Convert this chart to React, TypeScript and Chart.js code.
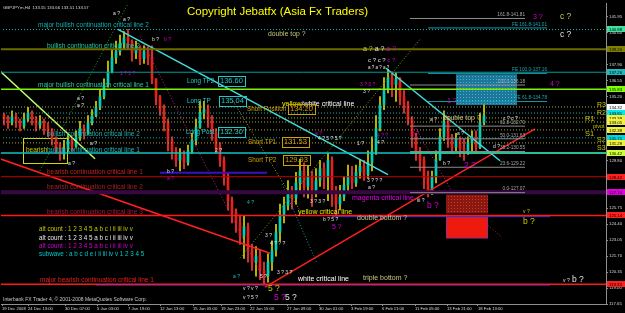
import React, { useEffect, useRef } from "react";
import { Chart, registerables } from "chart.js";

Chart.register(...registerables);

const FONT = "'Liberation Sans', Arial, Helvetica, sans-serif";

// ---------- price data : one candle per 2 H4 bars, x in H4-bar units ----------
const OPEN_FIRST = 133.6;
const CLOSES = [
  133.3, 133.0, 133.5, 133.1, 132.7, 133.3, 133.8, 133.3, 132.8, 133.1,
  132.6, 132.3, 131.6, 130.9, 130.3, 130.8, 131.5, 131.0, 131.8, 132.5,
  132.1, 133.0, 133.6, 134.3, 135.2, 136.2, 137.3, 138.5, 139.0, 139.7,
  140.2, 139.9, 138.9, 139.4, 138.4, 139.0, 138.5, 136.7, 135.2, 134.1,
  133.0, 131.5, 130.6, 129.8, 130.3, 129.6, 130.6, 131.5, 132.6, 133.8,
  134.1, 133.3, 132.1, 130.9, 129.8, 128.4, 126.4, 125.4, 124.5, 123.4,
  124.2, 122.2, 121.2, 121.7, 120.5, 120.0, 121.2, 122.2, 123.7, 125.2,
  126.0, 127.2, 126.6, 127.9, 128.9, 127.6, 128.4, 127.2, 128.1, 129.1,
  128.4, 129.8, 127.2, 126.1, 126.7, 127.7, 128.4, 127.9, 128.8, 129.3,
  128.6, 129.6, 130.6, 132.5, 134.5, 135.8, 136.8, 136.2, 136.7, 135.2,
  134.5, 133.3, 131.8, 130.6, 129.8, 128.3, 127.2, 128.4, 129.9, 131.8,
  133.1, 131.5, 130.9, 131.6, 130.8, 130.4, 131.3, 131.8, 130.9, 133.0, 133.6,
];
const HIGHS = [
  133.8, 133.6, 134.0, 133.8, 133.3, 133.8, 134.3, 134.0, 133.5, 133.6,
  133.3, 133.0, 132.5, 131.8, 131.3, 131.5, 132.0, 131.8, 132.3, 133.1,
  132.8, 133.6, 134.1, 134.8, 135.8, 136.7, 138.2, 139.2, 139.9, 140.4,
  140.7, 140.9, 140.0, 139.9, 139.5, 139.5, 139.4, 139.5, 136.5, 135.3,
  134.5, 133.3, 131.8, 130.9, 130.8, 130.6, 131.1, 132.1, 133.3, 134.8,
  134.8, 134.5, 133.6, 132.5, 131.3, 130.1, 128.8, 126.7, 125.7, 125.2,
  125.1, 124.5, 122.7, 122.5, 122.2, 121.2, 121.9, 123.0, 124.4, 126.1,
  126.7, 128.1, 127.6, 128.8, 129.9, 129.6, 129.3, 128.9, 129.1, 129.8,
  129.6, 130.4, 130.1, 127.6, 127.7, 128.4, 129.4, 129.3, 129.4, 129.9,
  129.8, 130.6, 131.8, 133.6, 135.2, 136.8, 137.5, 137.3, 137.2, 136.8,
  135.7, 134.8, 133.5, 132.1, 130.9, 130.1, 128.9, 128.9, 130.6, 132.5,
  134.0, 133.5, 132.0, 132.1, 131.8, 131.6, 131.8, 132.3, 132.3, 133.8, 134.5,
];
const LOWS = [
  132.8, 132.5, 132.8, 132.6, 132.3, 132.5, 133.1, 132.8, 132.3, 132.5,
  132.0, 131.8, 131.1, 130.4, 129.8, 129.9, 130.6, 130.6, 130.9, 131.5,
  131.6, 132.0, 132.8, 133.5, 134.1, 135.0, 136.0, 137.2, 138.0, 138.7,
  139.2, 139.2, 138.2, 138.4, 137.9, 138.0, 137.9, 136.3, 134.5, 133.6,
  132.3, 130.6, 129.9, 129.3, 128.9, 129.1, 129.4, 130.4, 131.1, 132.5,
  133.3, 132.6, 131.5, 130.4, 129.3, 127.7, 125.6, 124.5, 123.7, 122.7,
  121.5, 121.2, 120.5, 120.0, 119.7, 119.3, 119.5, 120.5, 121.7, 123.0,
  124.5, 125.6, 125.7, 126.1, 127.2, 126.7, 126.6, 125.9, 126.7, 127.6,
  127.4, 126.4, 125.9, 125.2, 125.6, 126.4, 127.2, 127.4, 127.6, 128.3,
  128.1, 128.3, 128.9, 130.3, 132.3, 134.1, 135.5, 135.2, 134.8, 134.5,
  133.8, 132.8, 130.9, 129.8, 128.9, 127.4, 126.7, 126.9, 127.9, 129.8,
  131.5, 130.9, 130.4, 130.6, 130.1, 129.8, 130.3, 130.6, 130.4, 130.8, 132.8,
];

const TIME_TICKS = [0, 13, 31.5, 47.5, 63, 79, 95.5, 109.5, 124, 142.5, 158.5, 174.5, 190, 206.5, 222.5, 238];
const TIME_LABELS = [
  "19 Dec 2008", "24 Dec 13:00", "30 Dec 07:00", "5 Jan 03:00", "7 Jan 19:00", "12 Jan 13:00",
  "15 Jan 05:00", "19 Jan 23:00", "22 Jan 15:00", "27 Jan 09:00", "30 Jan 01:00", "3 Feb 19:00",
  "6 Feb 11:00", "11 Feb 05:00", "13 Feb 21:00", "18 Feb 13:00",
];
const PRICE_TICKS = [
  117.65, 119.0, 120.35, 121.7, 123.05, 124.4, 125.75, 127.1, 128.45, 129.8,
  131.15, 132.5, 133.85, 135.2, 136.55, 137.9, 139.25, 140.6, 141.95,
];
const PRICE_MIN = 117.65;
const PRICE_MAX = 143.07;
const X_MIN = -0.5;
const X_MAX = 302;

// full-width horizontal levels: price, colour, width, dash
const LEVEL_PRICES = [140.88, 139.2, 137.26, 135.83, 134.32, 133.81, 133.39, 133.05, 132.38, 131.71, 131.28, 130.42, 128.42, 127.1, 125.14, 119.33];
const LEVEL_COLORS = ["#10b8b8", "#6b6b00", "#009c9c", "#80f000", "#a8a850", "#20a8a8", "#a8a840", "#a8a840", "#a8a840", "#10a0a0", "#a8a840", "#10c0c0", "#c00000", "#380842", "#ff1818", "#ff1818"];
const LEVEL_WIDTHS = [1, 2, 1, 1.5, 1, 1, 1, 1, 1, 1, 1, 1.5, 1, 4, 1.5, 1.5];
const LEVEL_DOTTED = [true, false, false, false, true, true, true, true, true, true, true, false, false, false, false, false];

// partial / sloped lines: u0, p0, u1, p1, colour, width, dotted
const SEGMENTS: [number, number, number, number, string, number, boolean][] = [
  [-1, 127.1, 303, 127.1, "#6a2a7a", 1, true],
  [204, 130.42, 303, 130.42, "#90f020", 1.5, false],
  [165, 125.04, 274, 125.04, "#3030e0", 1, false],
  [47, 119.24, 274, 119.24, "#3030e0", 1, false],
  [79, 128.76, 132.5, 128.76, "#3a10c0", 2, false],
  [58, 140.88, 193, 128.59, "#40e0e0", 1.5, false],
  [192, 137.6, 249, 129.77, "#40e0e0", 1.5, false],
  [-1, 137.35, 46.5, 129.94, "#c0ff70", 1.5, false],
  [-1, 129.94, 134, 121.94, "#ff2020", 1.5, false],
  [131.5, 119.07, 266.5, 132.46, "#ff2020", 1.5, false],
  [19, 128.93, 63, 143.07, "#30a030", 1, true],
  [119, 121.52, 209, 140.04, "#70a020", 1, true],
  [69, 140.29, 133, 118.99, "#c02090", 1, true],
  [115.5, 134.82, 149, 125.56, "#a0a030", 1, true],
  [140, 127.8, 157.5, 121.1, "#20a0a0", 1, true],
  [204, 133.39, 225.5, 127.0, "#c02090", 1, true],
  [243, 124.3, 250, 123.3, "#c02020", 1, true],
];

const FIB_LEVELS = [127.07, 129.22, 130.55, 131.63, 132.7, 136.18, 141.81];
const FIB_NAMES = ["0.0", "23.6", "38.2", "50.0", "61.8", "100.0", "161.8"];
const FE_LEVELS = [134.78, 137.16, 141.01];
const FE_NAMES = ["61.8", "100.0", "161.8"];

// zones: u0, p0, u1, p1, kind
const ZONES: [number, number, number, number, string][] = [
  [10.5, 131.71, 32.5, 129.6, "outline"],
  [227, 137.09, 257.5, 134.48, "blue"],
  [222, 126.91, 243, 125.31, "darkred"],
  [222, 125.05, 243, 123.2, "red"],
];

// right-axis price tags
const TAG_PRICES = [140.88, 139.2, 137.26, 135.83, 134.32, 133.81, 133.39, 133.05, 132.38, 131.71, 131.28, 130.42, 128.42, 127.1, 125.14, 119.33];
const TAG_COLORS = ["#40e0a0", "#808000", "#20b8c0", "#80ff00", "#ffffff", "#00e8e8", "#f0f040", "#f0f040", "#f0f040", "#00d8d8", "#f0f040", "#d0ff40", "#ff2020", "#e000e0", "#ff2020", "#ff2020"];

const W = "#e0e0e0";
const M = "#d000d0";
const Y = "#c8c800";
const C = "#20c0c0";
const K = "#c8c880";

// texts: u, p, text, colour, size, align
const TEXTS: [number, number, string, string, number, string?][] = [
  [0.5, 142.75, "GBPJPYm,H4  133.55 133.66 133.51 133.57", "#d8d8d8", 4.3],
  [92.5, 142.4, "Copyright Jebatfx (Asia Fx Traders)", "#ffff00", 11.5],
  [18, 141.22, "major bullish continuation critical line 2", "#10b0b0", 6.5],
  [22.5, 139.45, "bullish continuation critical line 2", "#20c8a0", 6.5],
  [18, 136.17, "major bullish continuation critical line 1", "#30c8a0", 6.5],
  [22.5, 132.04, "bullish continuation critical line 2", "#20b0b0", 6.5],
  [12, 130.7, "bearish", "#c8c800", 6.5],
  [22.5, 130.7, "bullish continuation critical line 1", "#20b8b8", 6.5],
  [22.5, 128.84, "bearish continuation critical line 1", "#c82020", 6.5],
  [22.5, 127.5, "bearish continuation critical line 2", "#a82020", 6.5],
  [22.5, 125.39, "bearish continuation critical line 3", "#a81838", 6.5],
  [19, 119.66, "major bearish continuation critical line 1", "#e82020", 6.5],
  [18.5, 123.96, "alt count : 1 2 3 4 5 a b c i ii iii iv v", "#c8c800", 6.3],
  [18.5, 123.2, "alt count : 1 2 3 4 5 a b c i ii iii iv v", "#e8e8e8", 6.3],
  [18.5, 122.53, "alt count : 1 2 3 4 5 a b c i ii iii iv v", "#d000d0", 6.3],
  [18.5, 121.85, "subwave : a b c d e i ii iii iv v 1 2 3 4 5", "#00c8c8", 6.3],
  [0.5, 118.06, "Interbank FX Trader 4, \u00a9 2001-2008 MetaQuotes Software Corp.", "#c8c8c8", 5],
  [133, 140.46, "double top ?", K, 6.8],
  [175, 126.65, "magenta critical line", "#e800e8", 7],
  [148, 125.47, "yellow critical line", "#e8e800", 7],
  [177.5, 124.88, "double bottom ?", K, 7],
  [148, 119.75, "white critical line", "#ffffff", 7],
  [180.5, 119.83, "triple bottom ?", K, 7],
  [220.5, 133.39, "double top ?", K, 6.8],
  [297.5, 134.48, "R3", Y, 7],
  [297.5, 133.81, "R2", Y, 7],
  [291.5, 133.3, "R1", Y, 7.5],
  [295.5, 132.63, "pivot", Y, 5.5],
  [291.5, 132.04, "S1", Y, 7.5],
  [297.5, 131.54, "S2", Y, 7],
  [297.5, 130.86, "S3", Y, 7],
  [37.5, 135.07, "a ?", W, 5],
  [37.5, 134.4, "a ?", W, 5],
  [33, 129.52, "a ?", W, 5],
  [44, 131.2, "a ?", W, 5],
  [55.5, 142.23, "a ?", W, 5],
  [60.5, 141.72, "a ?", W, 5],
  [75, 140.04, "b ?", W, 5],
  [81, 140.04, "b ?", M, 5],
  [59, 137.18, "1 ? 1 ?", M, 5],
  [82.5, 128.84, "b ?", W, 5],
  [82.5, 128.25, "a ?", M, 5],
  [106.5, 130.61, "2 ?", W, 5],
  [122.5, 126.23, "4 ?", C, 5],
  [131.5, 123.45, "3 ?", W, 5],
  [134, 122.78, "4 ? ? ?", W, 5],
  [137.5, 120.34, "3 ? 3 ?", W, 5],
  [115.5, 120.0, "a ?", C, 5],
  [129, 120.0, "5 ?", W, 5],
  [120.5, 118.91, "v ? v ?", W, 5],
  [133, 118.99, "5 ?", Y, 8.5],
  [120.5, 118.15, "v ? 5 ?", W, 5],
  [136, 118.15, "5 ?", M, 8.5],
  [141.5, 118.15, "5 ?", W, 8.5],
  [156.5, 132.04, "a ?", M, 5],
  [158, 131.62, "4 ? 5 ? 5 ?", W, 5],
  [177.5, 131.2, "1 ?", W, 5],
  [187.5, 131.28, "4 ?", W, 5],
  [187.5, 131.87, "4 ? ?", M, 5],
  [182.5, 128.08, "3 ? ? ?", W, 5],
  [183, 127.49, "a ?", W, 5],
  [154, 126.32, "3 ? 3 ?", W, 5],
  [160.5, 124.8, "b ? 5 ?", W, 5],
  [165, 124.13, "5 ?", M, 7],
  [179, 136.25, "3 ? 3 ?", M, 5],
  [180.5, 135.66, "3 ?", W, 5],
  [183, 137.6, "a ? a ? a ?", W, 4.5],
  [265.5, 141.89, "3 ?", M, 7],
  [279, 141.98, "c ?", "#c8c850", 8.5],
  [279, 140.46, "c ?", W, 8.5],
  [274, 136.25, "4 ?", M, 7],
  [222.5, 134.82, "1 ?", M, 7],
  [214, 133.22, "a ?", W, 5],
  [205, 132.04, "b ?", M, 5],
  [227.5, 132.04, "a ?", W, 5],
  [245.5, 130.95, "d ?", W, 5],
  [220.5, 129.52, "b ?", W, 5],
  [231, 129.35, "2 ?", M, 8.5],
  [207.5, 126.4, "iii ?", W, 5],
  [212.5, 125.98, "b ?", M, 8.5],
  [260.5, 125.47, "v ?", Y, 5],
  [260.5, 124.63, "b ?", Y, 8.5],
  [280.5, 119.66, "v ?", W, 5],
  [285, 119.75, "b ?", W, 8.5],
  [250.5, 133.3, "c ? c ?", W, 5],
];

// multi-coloured runs: u, p, size, pieces
const RUNS: [number, number, number, [string, string][]][] = [
  [140, 134.57, 7, [["yellow", "#e8e800"], ["/white critical line", "#ffffff"]]],
  [180.5, 139.2, 7, [["a ", "#c8c850"], ["? ", Y], ["a ", W], ["? ", W], ["a ", M], ["?", M]]],
  [183, 138.27, 6, [["c ? ", W], ["c ? ", W], ["c ?", M]]],
];

// boxed trade labels: label, u, p, box u, value, colour
const TRADES: [string, number, number, number, string, string][] = [
  ["Long TP2", 92.5, 136.5, 108, "136.60", "#20c8c8"],
  ["Long TP", 92.5, 134.82, 108.5, "135.04", "#20c8c8"],
  ["Long Post", 92, 132.21, 108, "132.30", "#20c8c8"],
  ["Short Position", 122.5, 134.15, 143, "134.20", "#d0a000"],
  ["Short TP1", 123, 131.37, 140, "131.53", "#d0a000"],
  ["Short TP2", 123, 129.85, 140.5, "129.93", "#d0a000"],
];

const BODY_UP = "#00d0b8";
const BODY_DN = "#e82018";
const WICK_UP = "#d8d800";
const WICK_DN = "#ff3838";

function dotPattern(ctx: CanvasRenderingContext2D, bg: string, dot: string) {
  const c = document.createElement("canvas");
  c.width = 3;
  c.height = 3;
  const g = c.getContext("2d")!;
  g.fillStyle = bg;
  g.fillRect(0, 0, 3, 3);
  g.fillStyle = dot;
  g.fillRect(1, 1, 1, 1);
  return ctx.createPattern(c, "repeat");
}

const overlayPlugin = {
  id: "mt4overlay",
  beforeDatasetsDraw(chart: any) {
    const { ctx, chartArea, scales } = chart;
    const xs = scales.x;
    const ys = scales.y;
    ctx.save();
    ctx.beginPath();
    ctx.rect(chartArea.left, chartArea.top, chartArea.right - chartArea.left, chartArea.bottom - chartArea.top);
    ctx.clip();
    for (const [u0, p0, u1, p1, kind] of ZONES) {
      const x0 = xs.getPixelForValue(u0);
      const x1 = xs.getPixelForValue(u1);
      const y0 = ys.getPixelForValue(p0);
      const y1 = ys.getPixelForValue(p1);
      if (kind === "outline") {
        ctx.strokeStyle = "#d8d800";
        ctx.lineWidth = 1;
        ctx.strokeRect(Math.round(x0) + 0.5, Math.round(y0) + 0.5, Math.round(x1 - x0), Math.round(y1 - y0));
      } else if (kind === "blue") {
        ctx.fillStyle = dotPattern(ctx, "#1c7898", "#48b0d8") as any;
        ctx.fillRect(x0, y0, x1 - x0, y1 - y0);
      } else if (kind === "darkred") {
        ctx.fillStyle = dotPattern(ctx, "#8a1810", "#c83828") as any;
        ctx.fillRect(x0, y0, x1 - x0, y1 - y0);
      } else {
        ctx.fillStyle = "#ee1a10";
        ctx.fillRect(x0, y0, x1 - x0, y1 - y0);
        ctx.setLineDash([1, 1]);
        ctx.strokeStyle = "#4040ff";
        ctx.strokeRect(x0 + 0.5, y0 + 0.5, x1 - x0 - 1, y1 - y0 - 1);
        ctx.setLineDash([]);
      }
    }
    ctx.restore();
  },
  afterDatasetsDraw(chart: any) {
    const { ctx, chartArea, scales } = chart;
    const xs = scales.x;
    const ys = scales.y;
    ctx.save();
    ctx.beginPath();
    ctx.rect(chartArea.left, chartArea.top, chartArea.right - chartArea.left, chartArea.bottom - chartArea.top);
    ctx.clip();
    ctx.textBaseline = "middle";
    const put = (u: number, p: number, text: string, color: string, size: number, align = "left") => {
      ctx.font = `${size}px ${FONT}`;
      ctx.fillStyle = color;
      ctx.textAlign = align;
      ctx.fillText(text, xs.getPixelForValue(u), ys.getPixelForValue(p));
    };
    FIB_LEVELS.forEach((lv, i) => put(261.5, lv + 0.3, `${FIB_NAMES[i]}-${lv.toFixed(2)}`, "#a8a8a8", 4.7, "right"));
    FE_LEVELS.forEach((lv, i) => put(272.5, lv + 0.3, `FE ${FE_NAMES[i]}-${lv.toFixed(2)}`, "#20a8b0", 4.7, "right"));
    for (const [u, p, text, color, size, align] of TEXTS) put(u, p, text, color, size, align || "left");
    for (const [u, p, size, pieces] of RUNS) {
      ctx.font = `${size}px ${FONT}`;
      ctx.textAlign = "left";
      let x = xs.getPixelForValue(u);
      const y = ys.getPixelForValue(p);
      for (const [t, col] of pieces) {
        ctx.fillStyle = col;
        ctx.fillText(t, x, y);
        x += ctx.measureText(t).width;
      }
    }
    for (const [label, u, p, ub, value, color] of TRADES) {
      put(u, p, label, color, 6.3);
      ctx.font = `7.5px ${FONT}`;
      const bx = xs.getPixelForValue(ub);
      const by = ys.getPixelForValue(p);
      const w = ctx.measureText(value).width;
      ctx.fillStyle = color;
      ctx.textAlign = "left";
      ctx.fillText(value, bx + 2, by);
      ctx.strokeStyle = color;
      ctx.lineWidth = 1;
      ctx.strokeRect(Math.round(bx) + 0.5, Math.round(by - 5) + 0.5, Math.round(w + 4), 10);
    }
    ctx.restore();
  },
  afterDraw(chart: any) {
    const { ctx, chartArea, scales } = chart;
    const ys = scales.y;
    ctx.save();
    ctx.textBaseline = "middle";
    ctx.textAlign = "left";
    ctx.font = `4.3px ${FONT}`;
    TAG_PRICES.forEach((p, i) => {
      const y = Math.round(ys.getPixelForValue(p));
      ctx.fillStyle = TAG_COLORS[i];
      ctx.fillRect(chartArea.right + 1, y - 3, 18, 6);
      ctx.fillStyle = "#000000";
      ctx.fillText(p.toFixed(2), chartArea.right + 3, y + 0.5);
    });
    ctx.restore();
  },
};

export default function App() {
  const ref = useRef<HTMLCanvasElement | null>(null);

  useEffect(() => {
    document.body.style.margin = "0";
    document.body.style.background = "#000";
    document.body.style.overflow = "hidden";
    const canvas = ref.current!;

    const line = (u0: number, p0: number, u1: number, p1: number, color: string, width: number, dotted: boolean) => ({
      type: "line" as const,
      data: [{ x: u0, y: p0 }, { x: u1, y: p1 }],
      borderColor: color,
      borderWidth: width,
      borderDash: dotted ? [1, 2] : [],
      pointRadius: 0,
      pointHoverRadius: 0,
      fill: false,
      tension: 0,
      order: 0,
    });

    const lineSets: any[] = [];
    FIB_LEVELS.forEach((lv) => lineSets.push(line(204, lv, 261.5, lv, "#8c8c8c", 1, false)));
    FE_LEVELS.forEach((lv) => lineSets.push(line(213, lv, 272.5, lv, "#1898a8", 1, false)));
    LEVEL_PRICES.forEach((p, i) => lineSets.push(line(-1, p, 303, p, LEVEL_COLORS[i], LEVEL_WIDTHS[i], LEVEL_DOTTED[i])));
    SEGMENTS.forEach((s) => lineSets.push(line(s[0], s[1], s[2], s[3], s[4], s[5], s[6])));

    const xs = CLOSES.map((_, i) => 2 * i + 1);
    const opens = CLOSES.map((_, i) => (i === 0 ? OPEN_FIRST : CLOSES[i - 1]));
    const up = CLOSES.map((c, i) => c >= opens[i]);

    const wicks = {
      type: "bar" as const,
      data: xs.map((x, i) => ({ x, y: [Math.min(LOWS[i], opens[i], CLOSES[i]), Math.max(HIGHS[i], opens[i], CLOSES[i])] })),
      backgroundColor: up.map((u) => (u ? WICK_UP : WICK_DN)),
      barThickness: 1,
      grouped: false,
      borderWidth: 0,
      order: 6,
    };
    const bodies = {
      type: "bar" as const,
      data: xs.map((x, i) => ({ x, y: [opens[i], CLOSES[i]] })),
      backgroundColor: up.map((u) => (u ? BODY_UP : BODY_DN)),
      barThickness: 2,
      grouped: false,
      borderWidth: 0,
      minBarLength: 1,
      order: 5,
    };

    const chart = new Chart(canvas, {
      type: "bar",
      data: { datasets: [...lineSets, wicks, bodies] as any },
      options: {
        responsive: false,
        animation: false,
        devicePixelRatio: 1,
        events: [],
        layout: { padding: { left: 1, top: 2, right: 0, bottom: 0 } },
        plugins: { legend: { display: false }, tooltip: { enabled: false } },
        scales: {
          x: {
            type: "linear",
            min: X_MIN,
            max: X_MAX,
            offset: false,
            afterBuildTicks: (s: any) => {
              s.ticks = TIME_TICKS.map((v) => ({ value: v }));
            },
            afterFit: (s: any) => {
              s.height = 9;
            },
            ticks: {
              autoSkip: false,
              maxRotation: 0,
              minRotation: 0,
              align: "start",
              padding: 0,
              color: "#d8d8d8",
              font: { size: 4.2, family: FONT },
              callback: (_v: any, i: number) => TIME_LABELS[i],
            },
            grid: { drawOnChartArea: false, offset: false, color: "#909090", tickLength: 2 },
            border: { display: true, color: "#909090", width: 1 },
          },
          y: {
            type: "linear",
            position: "right",
            min: PRICE_MIN,
            max: PRICE_MAX,
            afterBuildTicks: (s: any) => {
              s.ticks = PRICE_TICKS.map((v) => ({ value: v }));
            },
            afterFit: (s: any) => {
              s.width = 19;
            },
            ticks: {
              autoSkip: false,
              padding: 1,
              color: "#d8d8d8",
              font: { size: 4.3, family: FONT },
              callback: (v: any) => Number(v).toFixed(2),
            },
            grid: { drawOnChartArea: false, color: "#909090", tickLength: 2 },
            border: { display: true, color: "#909090", width: 1 },
          },
        },
      } as any,
      plugins: [overlayPlugin as any],
    });
    return () => chart.destroy();
  }, []);

  return (
    <div style={{ width: 625, height: 313, background: "#000", overflow: "hidden" }}>
      <canvas ref={ref} width={625} height={313} style={{ display: "block", width: 625, height: 313 }} />
    </div>
  );
}
